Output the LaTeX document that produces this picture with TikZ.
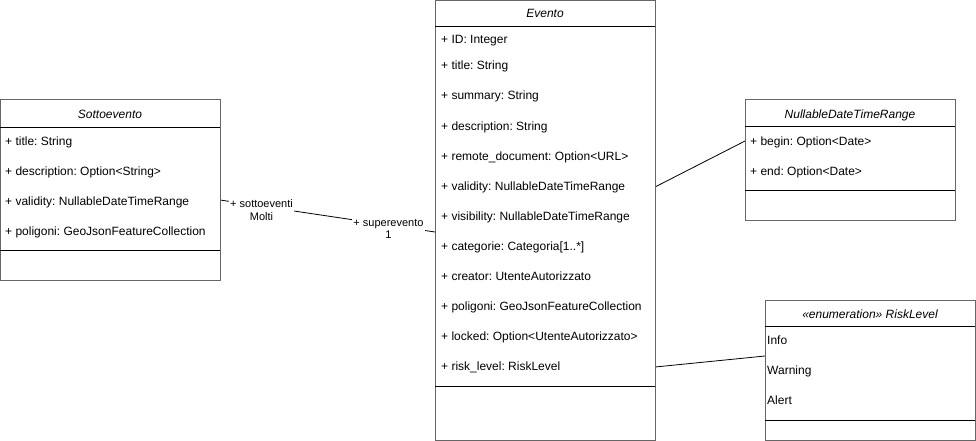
\documentclass[tikz,border=0pt]{standalone}
\usepackage{fontspec}
\setmainfont{Liberation Sans}
\definecolor{boxgray}{RGB}{102,102,102}
\frenchspacing
\begin{document}
\frenchspacing
\begin{tikzpicture}[x=1pt,y=-1pt,
  classbox/.style={draw=boxgray,line width=1pt,fill=white,anchor=north west,inner sep=0pt,outer sep=0pt},
  ctitle/.style={font=\fontsize{12}{14}\selectfont\itshape,anchor=base,inner sep=0pt},
  attr/.style={font=\fontsize{12}{14}\selectfont,anchor=base west,inner sep=0pt},
  sepline/.style={draw=black,line width=0.8pt},
  assoc/.style={draw=black,line width=0.8pt},
  alabel/.style={font=\fontsize{11}{12.5}\selectfont,fill=white,align=center,inner sep=1pt}
]
\useasboundingbox (0,0) rectangle (976,441);
\fill[white] (0,0) rectangle (976,441);

% connectors first (under labels)
\coordinate (sA) at (220,200);
\coordinate (eA) at (435,232);
\coordinate (eB) at (655,187);
\coordinate (nB) at (745,141);
\coordinate (eC) at (655,367);
\coordinate (rC) at (765,356);
\draw[assoc] (sA) -- (eA);
\draw[assoc] (eB) -- (nB);
\draw[assoc] (eC) -- (rC);

% Sottoevento
\node[classbox,minimum width=220pt,minimum height=180pt] (sotto) at (0,100) {};
\draw[sepline] (0,127) -- (220,127);
\draw[sepline] (0,250) -- (220,250);
\node[ctitle] (sottoT) at (110,118) {Sottoevento};
\node[attr] (s1) at (5,145) {+ title: String};
\node[attr] (s2) at (5,175) {+ description: Option<String>};
\node[attr] (s3) at (5,205) {+ validity: NullableDateTimeRange};
\node[attr] (s4) at (5,235) {+ poligoni: GeoJsonFeatureCollection};

% Evento
\node[classbox,minimum width=220pt,minimum height=440pt] (evento) at (435,0.5) {};
\draw[sepline] (435,26) -- (655,26);
\draw[sepline] (435,386) -- (655,386);
\node[ctitle] (eventoT) at (545,18) {Evento};
\node[attr] (e1) at (441,44) {+ ID: Integer};
\node[attr] (e2) at (441,70) {+ title: String};
\node[attr] (e3) at (441,100) {+ summary: String};
\node[attr] (e4) at (441,130) {+ description: String};
\node[attr] (e5) at (441,160) {+ remote\_document: Option<URL>};
\node[attr] (e6) at (441,190) {+ validity: NullableDateTimeRange};
\node[attr] (e7) at (441,220) {+ visibility: NullableDateTimeRange};
\node[attr] (e8) at (441,250) {+ categorie: Categoria[1..*]};
\node[attr] (e9) at (441,280) {+ creator: UtenteAutorizzato};
\node[attr] (e10) at (441,310) {+ poligoni: GeoJsonFeatureCollection};
\node[attr] (e11) at (441,340) {+ locked: Option<UtenteAutorizzato>};
\node[attr] (e12) at (441,370) {+ risk\_level: RiskLevel};

% NullableDateTimeRange
\node[classbox,minimum width=210pt,minimum height=120pt] (ndtr) at (745,100) {};
\draw[sepline] (745,126) -- (955,126);
\draw[sepline] (745,190) -- (955,190);
\node[ctitle] (ndtrT) at (850,118) {NullableDateTimeRange};
\node[attr] (n1) at (750,145) {+ begin: Option<Date>};
\node[attr] (n2) at (750,175) {+ end: Option<Date>};

% RiskLevel
\node[classbox,minimum width=210pt,minimum height=140pt] (risk) at (765,300) {};
\draw[sepline] (765,326) -- (975,326);
\draw[sepline] (765,420) -- (975,420);
\node[ctitle] (riskT) at (870,318) {«enumeration» RiskLevel};
\node[attr] (r1) at (767,344) {Info};
\node[attr] (r2) at (767,374) {Warning};
\node[attr] (r3) at (767,404) {Alert};

% association labels
\node[alabel] (lab1) at (261.5,210) {+ sottoeventi\\Molti};
\node[alabel] (lab2) at (388.5,229) {+ superevento\\1};
\end{tikzpicture}
\end{document}
